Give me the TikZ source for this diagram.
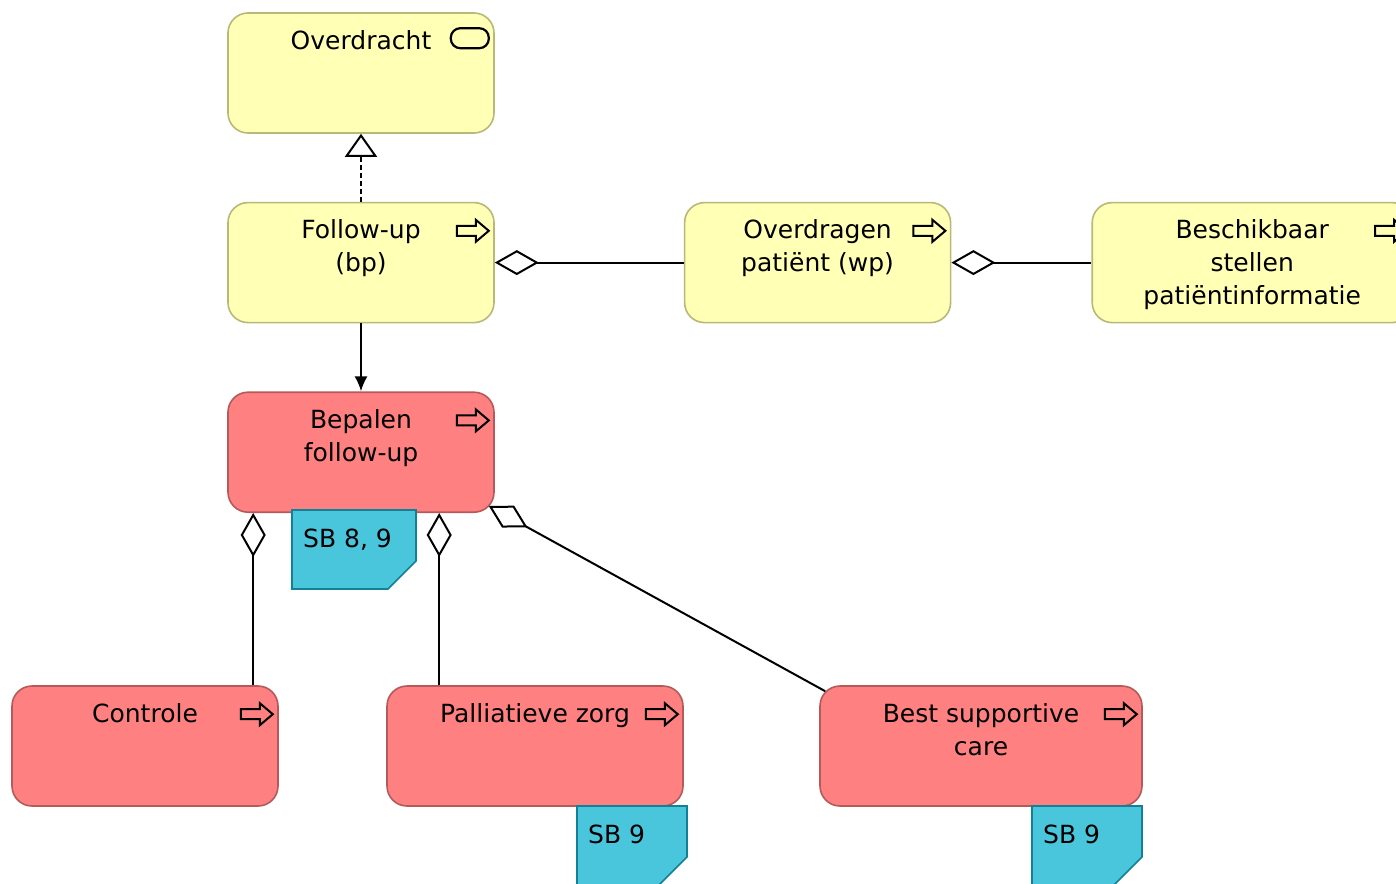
\documentclass[tikz,border=0pt]{standalone}
\usepackage{fontspec}
\setmainfont{DejaVu Sans}
\usepackage{xcolor}
\usepackage{tikz}
\usetikzlibrary{arrows.meta,positioning}

\definecolor{busfill}{RGB}{255,255,181}
\definecolor{busline}{RGB}{184,184,120}
\definecolor{zorgfill}{RGB}{255,128,128}
\definecolor{zorgline}{RGB}{180,90,90}
\definecolor{notefill}{RGB}{74,198,220}
\definecolor{noteline}{RGB}{18,128,150}

\begin{document}
\begin{tikzpicture}[
    x=1pt, y=-1pt,
    node distance=68pt and 189pt,
    font=\fontsize{25}{33}\selectfont,
    box/.style={rounded corners=20pt, minimum width=266pt, minimum height=120pt, line width=1.6pt, inner sep=0pt},
    bus/.style={box, draw=busline, fill=busfill},
    zorg/.style={box, draw=zorgline, fill=zorgfill},
    ttl/.style={anchor=north, yshift=-18pt, align=center, inner sep=0pt},
    sbnote/.style={draw=noteline, fill=notefill, line width=1.6pt},
    sbtxt/.style={anchor=base west, inner sep=0pt},
    real/.style={-{Triangle[fill=white, length=23pt, width=32pt]}, line width=2pt, dash pattern=on 5pt off 3pt},
    trig/.style={-{Latex[length=15pt, width=13pt]}, line width=2pt},
    aggr/.style={{Diamond[fill=white, length=44pt, width=25pt]}-, line width=2pt},
    pics/procicon/.style={code={
        \draw[line width=2pt, line join=miter] (0,-5) -- (19,-5) -- (19,-11) -- (32,0) -- (19,11) -- (19,5) -- (0,5) -- cycle;
    }},
    pics/svcicon/.style={code={
        \draw[line width=2.2pt, rounded corners=9.5pt] (0,0) rectangle (38,20);
    }},
]
\useasboundingbox (0,0) rectangle (1396,883);
\clip (0,0) rectangle (1396,883);

% Nodes
\node[bus, label={[ttl]north:Overdracht}] (ovd) at (361,73) {};
\node[bus, below=of ovd, label={[ttl]north:Follow-up\\(bp)}] (fu) {};
\node[bus, right=of fu, label={[ttl]north:Overdragen\\patiënt (wp)}] (ovp) {};
\node[bus, right=140pt of ovp, minimum width=320pt, label={[ttl]north:Beschikbaar\\stellen\\patiëntinformatie}] (bsp) {};
\node[zorg, below=of fu, label={[ttl]north:Bepalen\\follow-up}] (bep) {};
\node[zorg, label={[ttl]north:Controle}] (ctl) at (145,746) {};
\node[zorg, minimum width=296pt, label={[ttl]north:Palliatieve zorg}] (pz) at (535,746) {};
\node[zorg, minimum width=322pt, label={[ttl]north:Best supportive\\care}] (bsc) at (981,746) {};

% Icons
\pic at ([shift={(-44,16)}]ovd.north east) {svcicon};
\pic at ([shift={(-38,29)}]fu.north east) {procicon};
\pic at ([shift={(-38,29)}]ovp.north east) {procicon};
\pic at ([shift={(-38,29)}]bsp.north east) {procicon};
\pic at ([shift={(-38,29)}]bep.north east) {procicon};
\pic at ([shift={(-38,29)}]ctl.north east) {procicon};
\pic at ([shift={(-38,29)}]pz.north east) {procicon};
\pic at ([shift={(-38,29)}]bsc.north east) {procicon};

% Relations
\draw[real] (fu) -- (ovd);
\draw[trig] (fu) -- (bep);
\draw[aggr] (fu) -- (ovp);
\draw[aggr] (ovp) -- (bsp);
\coordinate (ag1) at ([xshift=26pt]bep.south west);
\coordinate (ag2) at ([xshift=212pt]bep.south west);
\draw[aggr] (ag1) -- (ag1 |- ctl.north);
\draw[aggr] (ag2) -- (ag2 |- pz.north);
\draw[aggr] ([shift={(-6,-7)}]bep.south east) -- ([shift={(6,6)}]bsc.north west);

% Notes
\draw[sbnote] (292,510) -- (416,510) -- (416,561) -- (388,589) -- (292,589) -- cycle;
\node[sbtxt] (sb89) at (303,547) {SB 8, 9};
\draw[sbnote] (577,806) -- (687,806) -- (687,857) -- (659,885) -- (577,885) -- cycle;
\node[sbtxt] (sb9a) at (588,843) {SB 9};
\draw[sbnote] (1032,806) -- (1142,806) -- (1142,857) -- (1114,885) -- (1032,885) -- cycle;
\node[sbtxt] (sb9b) at (1043,843) {SB 9};
\end{tikzpicture}
\end{document}
